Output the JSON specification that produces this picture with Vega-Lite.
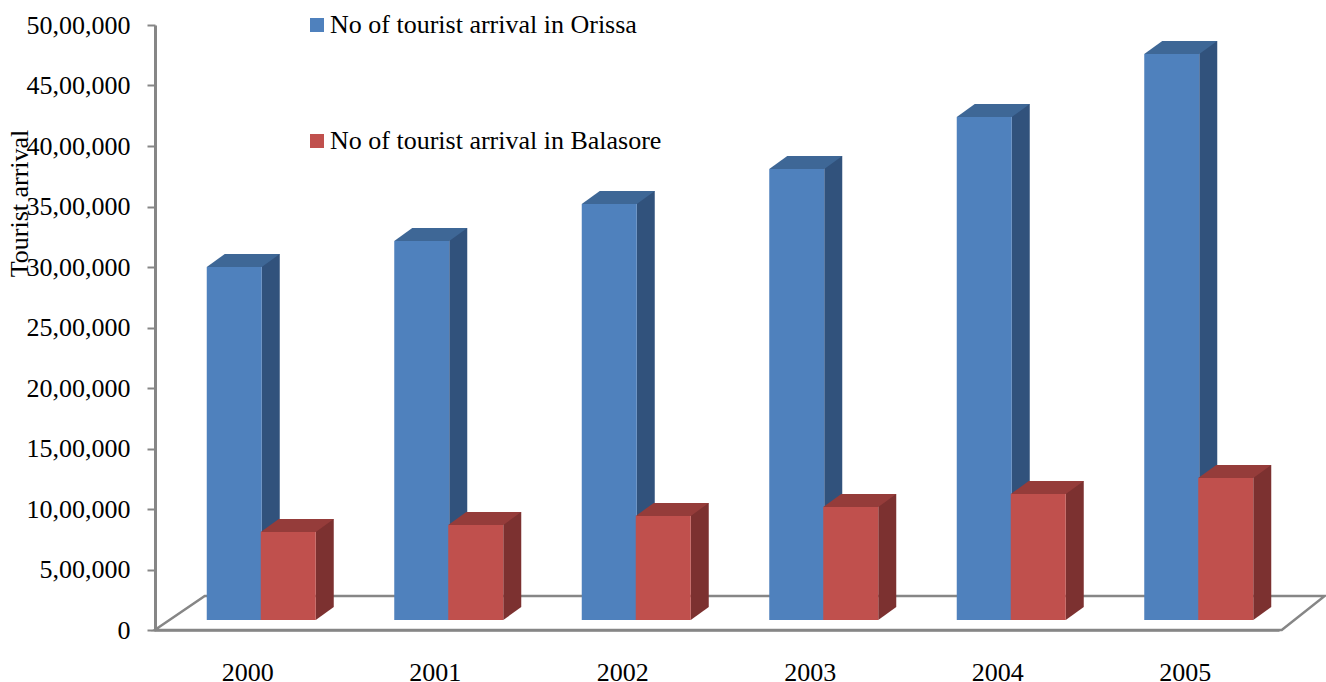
{
"$schema":"https://vega.github.io/schema/vega-lite/v6.json",
"width":1127,"height":605,
"autosize":"none",
"padding":{"left":155,"top":25,"right":44,"bottom":52},
"background":"white",
"config":{"view":{"stroke":null},"font":"Liberation Serif"},
"data":{"values":[
{"year":"2000","series":"No of tourist arrival in Orissa","value":2917000},
{"year":"2001","series":"No of tourist arrival in Orissa","value":3132000},
{"year":"2002","series":"No of tourist arrival in Orissa","value":3438000},
{"year":"2003","series":"No of tourist arrival in Orissa","value":3727000},
{"year":"2004","series":"No of tourist arrival in Orissa","value":4157000},
{"year":"2005","series":"No of tourist arrival in Orissa","value":4678000},
{"year":"2000","series":"No of tourist arrival in Balasore","value":727000},
{"year":"2001","series":"No of tourist arrival in Balasore","value":785000},
{"year":"2002","series":"No of tourist arrival in Balasore","value":860000},
{"year":"2003","series":"No of tourist arrival in Balasore","value":934000},
{"year":"2004","series":"No of tourist arrival in Balasore","value":1041000},
{"year":"2005","series":"No of tourist arrival in Balasore","value":1174000}
]},
"encoding":{
"x":{"field":"year","type":"nominal","scale":{"type":"band","paddingInner":0,"paddingOuter":0,"range":[-1,1124]},
 "axis":{"title":null,"labelAngle":0,"labelFontSize":26,"labelColor":"#000000","labelBaseline":"alphabetic","labelPadding":50,"ticks":false,"domainColor":"#868686","domainWidth":2.5,"zindex":0}},
"y":{"field":"value","type":"quantitative","scale":{"domain":[0,5000000],"nice":false},
 "axis":{"title":"Tourist arrival","titleFontSize":26,"titleFontWeight":"normal","titleColor":"#000000","titleX":-123,"titleY":178,"values":[0,500000,1000000,1500000,2000000,2500000,3000000,3500000,4000000,4500000,5000000],
 "labelExpr":"datum.value==0?'0':format(datum.value/100000,'d')+',00,000'","labelFontSize":26,"labelColor":"#000000","labelPadding":17,"tickSize":8,"tickWidth":2,"tickColor":"#868686","domainColor":"#868686","domainWidth":3,"grid":false,"zindex":0}}
},
"layer":[
{"transform":[{"filter":"datum.year=='2000' && datum.series=='No of tourist arrival in Orissa'"}],
 "mark":{"type":"point","filled":false,"shape":"M-93,0 L-43,-34 L1077,-34 L1034,0 Z","size":4,"stroke":"#868686","strokeWidth":2.5,"opacity":1,"clip":false},
 "encoding":{"y":{"datum":0}}},

{"transform":[{"filter":"datum.series=='No of tourist arrival in Orissa'"}],
 "mark":{"type":"bar","width":18,"xOffset":23,"x2Offset":23,"color":"#31527C","yOffset":-23,"y2Offset":-23},
 "encoding":{"y2":{"datum":0}}},
{"transform":[{"filter":"datum.series=='No of tourist arrival in Orissa'"}],
 "mark":{"type":"point","filled":true,"shape":"M-27.5,0 L-9.5,-13 L45.5,-13 L27.5,0 Z","size":4,"color":"#3E6796","opacity":1,"strokeWidth":0,"xOffset":-13.5,"yOffset":-10}},
{"transform":[{"filter":"datum.series=='No of tourist arrival in Orissa'"}],
 "mark":{"type":"bar","width":55,"xOffset":-13.5,"x2Offset":-13.5,"yOffset":-10,"y2Offset":-10},
 "encoding":{"y2":{"datum":0},
  "color":{"field":"series","type":"nominal","scale":{"domain":["No of tourist arrival in Orissa","No of tourist arrival in Balasore"],"range":["#4F81BD","#C0504D"]},
   "legend":{"title":null,"orient":"none","legendX":149,"legendY":-13,"padding":0,"symbolType":"square","symbolSize":196,"symbolStrokeWidth":0,"labelFontSize":26,"labelColor":"#000000","labelOffset":0,"labelLimit":500,"rowPadding":90,"symbolOpacity":1}}}},

{"transform":[{"filter":"datum.series=='No of tourist arrival in Balasore'"}],
 "mark":{"type":"bar","width":18,"xOffset":77,"x2Offset":77,"color":"#7C3130","yOffset":-23,"y2Offset":-23},
 "encoding":{"y2":{"datum":0}}},
{"transform":[{"filter":"datum.series=='No of tourist arrival in Balasore'"}],
 "mark":{"type":"point","filled":true,"shape":"M27.5,0 L45.5,-13 L27.5,-13 Z","size":4,"color":"#7C3130","opacity":1,"strokeWidth":0,"xOffset":40.5,"yOffset":-10},
 "encoding":{"y":{"datum":0}}},
{"transform":[{"filter":"datum.series=='No of tourist arrival in Balasore'"}],
 "mark":{"type":"point","filled":true,"shape":"M-27.5,0 L-9.5,-13 L45.5,-13 L27.5,0 Z","size":4,"color":"#953C3A","opacity":1,"strokeWidth":0,"xOffset":40.5,"yOffset":-10}},
{"transform":[{"filter":"datum.series=='No of tourist arrival in Balasore'"}],
 "mark":{"type":"bar","width":55,"xOffset":40.5,"x2Offset":40.5,"yOffset":-10,"y2Offset":-10},
 "encoding":{"y2":{"datum":0},
  "color":{"field":"series","type":"nominal"}}}
]
}
